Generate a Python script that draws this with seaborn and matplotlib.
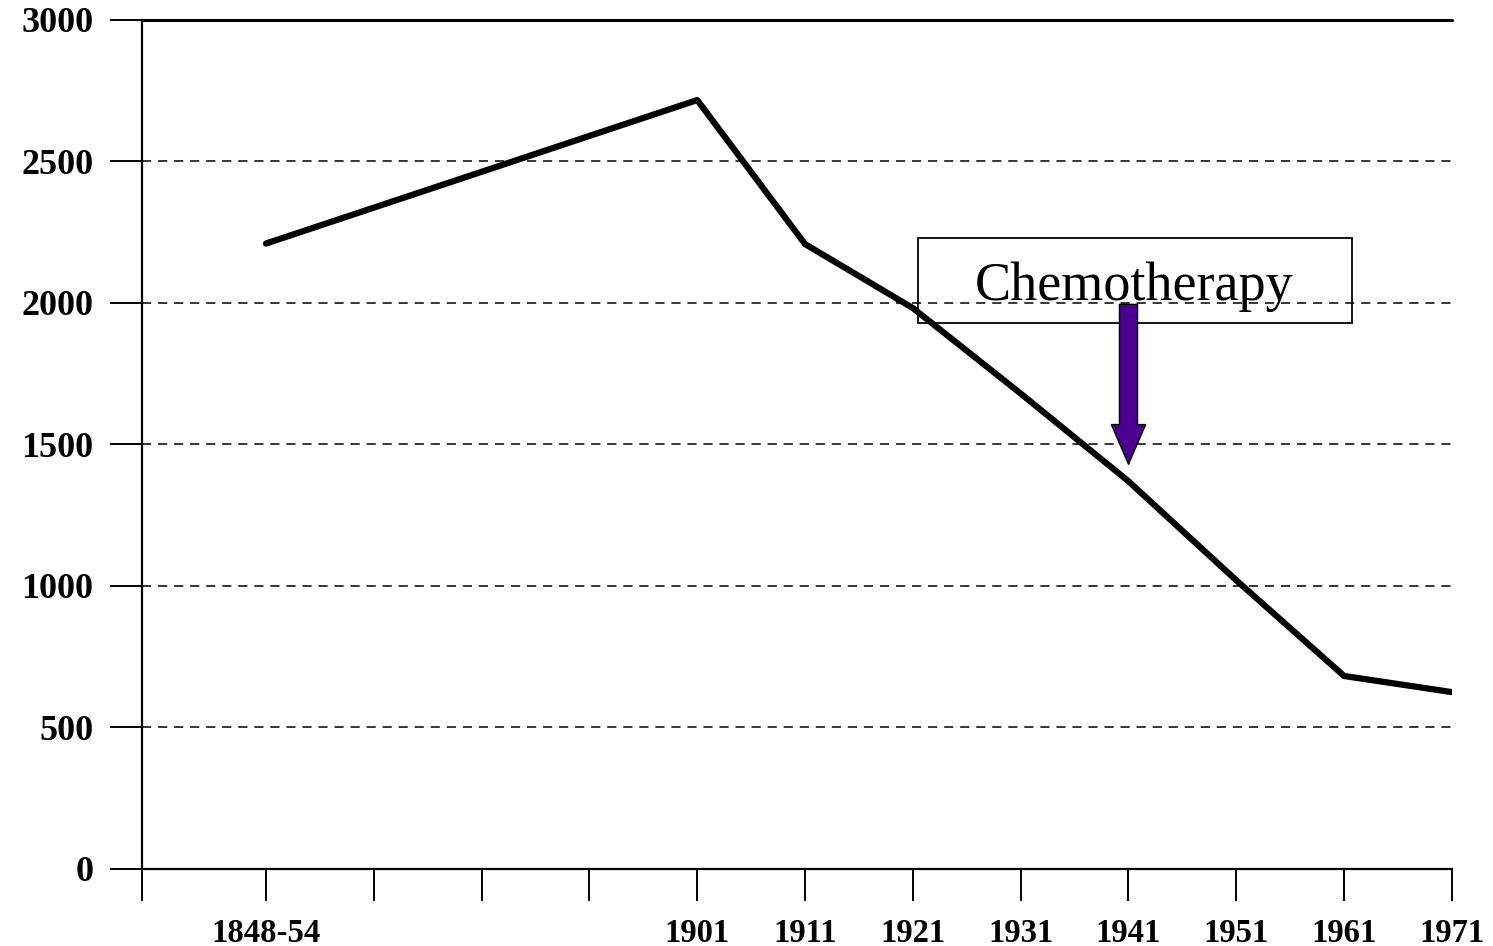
import numpy as np
import pandas as pd
import matplotlib
matplotlib.use("Agg")
import matplotlib.pyplot as plt
import seaborn as sns
from matplotlib.patches import Rectangle, FancyArrowPatch

# Tick slots along the x axis; three blank slots between 1848-54 and 1901
periods = ["1848-54", "", "", "", "1901", "1911", "1921", "1931",
           "1941", "1951", "1961", "1971"]
rates = [2210, np.nan, np.nan, np.nan, 2717, 2208, 1982, 1680,
         1370, 1020, 682, 625]
y_ticks = [0, 500, 1000, 1500, 2000, 2500, 3000]
note = "Chemotherapy"
note_period = "1941"

sns.set_style("white")
plt.rcParams["font.family"] = ["Liberation Serif", "DejaVu Serif"]
plt.rcParams["text.color"] = "black"
plt.rcParams["xtick.color"] = "black"
plt.rcParams["ytick.color"] = "black"

df = pd.DataFrame({"period": periods, "rate": rates})
df["slot"] = np.arange(len(df))
line_df = df.dropna()

fig = plt.figure(figsize=(14.93, 9.46), dpi=100)
ax = fig.add_axes([0.0951, 0.0814, 0.9725 - 0.0951, 0.9789 - 0.0814])

x_left = -1.15
ax.set_xlim(x_left, len(periods) - 1)
ax.set_ylim(0, 3000)

# dashed grid, solid line on top
for v in y_ticks[1:-1]:
    ax.axhline(v, color="black", lw=1.1, ls=(0, (6, 4.5)), zorder=1)
ax.axhline(y_ticks[-1], color="black", lw=2.2, zorder=1, clip_on=False)

sns.lineplot(data=line_df, x="slot", y="rate", color="black", lw=4.5,
             ax=ax, zorder=3)

# annotation box and arrow
note_x = periods.index(note_period)
ax.add_patch(Rectangle((6.05, 1929), 4.02, 301, fill=False, edgecolor="black",
                       lw=1.3, zorder=4))
ax.text(8.05, 2011, note, ha="center", va="baseline", fontsize=39,
        color="black", zorder=5)
arrow = FancyArrowPatch((note_x, 1995), (note_x, 1430),
                        arrowstyle="simple,head_length=2.2,head_width=1.9,tail_width=1",
                        mutation_scale=13, facecolor="#4B0090",
                        edgecolor="black", lw=1, shrinkA=0, shrinkB=0, zorder=6)
ax.add_patch(arrow)

ax.set_xticks([x_left] + list(df["slot"]))
ax.set_xticklabels([""] + periods, fontsize=23.5, fontweight="bold",
                   color="black")
ax.set_yticks(y_ticks)
ax.set_yticklabels([str(v) for v in y_ticks], fontsize=26, fontweight="bold",
                   color="black")
ax.tick_params(axis="both", direction="out", length=23, width=1.4,
               color="black", pad=12, bottom=True, left=True)

ax.set_xlabel("")
ax.set_ylabel("")
for s in ["top", "right"]:
    ax.spines[s].set_visible(False)
for s in ["left", "bottom"]:
    ax.spines[s].set_color("black")
    ax.spines[s].set_linewidth(1.6)

fig.savefig("out.png", dpi=100, facecolor="white")
plt.close(fig)
